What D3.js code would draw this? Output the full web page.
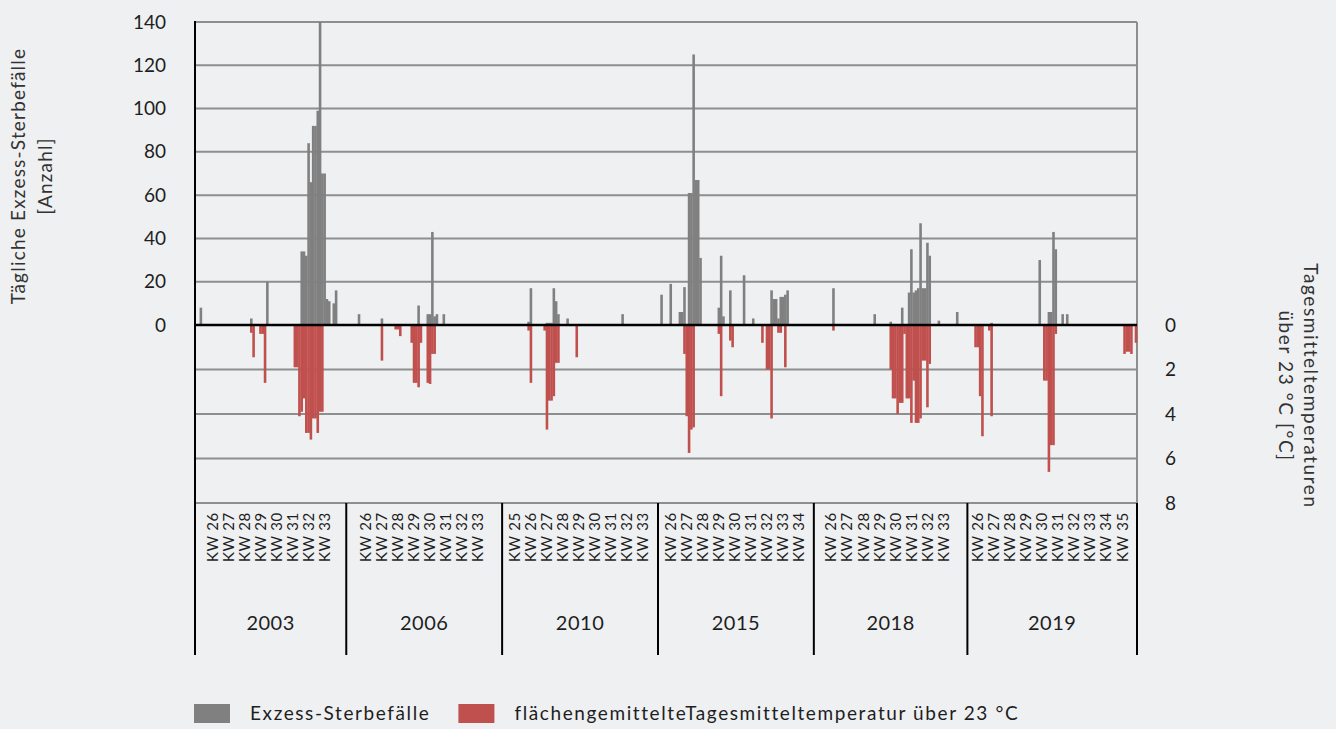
<!DOCTYPE html>
<html>
<head>
<meta charset="utf-8">
<script src="https://cdn.jsdelivr.net/npm/d3@7"></script>
<style>
  body { margin: 0; background: #eff0f2; }
  #viz svg { display: block; font-family: Lato, "Open Sans", sans-serif; }
</style>
</head>
<body>
<div id="viz"></div>
<script>
// one value per day of each heat period (excess deaths / degrees above 23 °C)
var excess2003 = [
  0,0,8,0,0,0,0,0,0,0,
  0,0,0,0,0,0,0,0,0,0,
  0,0,0,0,3,0,0,0,0,0,
  0,20,0,0,0,0,0,0,0,0,
  0,0,0,0,0,0,34,34,32,84,
  66,92,92,99,140,70,70,12,11,0,
  10,16,0,0,0,0
];
var temp2003 = [
  0,0,0,0,0,0,0,0,0,0,
  0,0,0,0,0,0,0,0,0,0,
  0,0,0,0,0.35,1.45,0,0,0.4,0.4,
  2.6,0,0,0,0,0,0,0,0,0,
  0,0,0,1.9,1.9,4.1,3.9,3.3,4.85,4.85,
  5.15,4.2,4.2,4.85,3.9,3.9,0,0,0,0,
  0,0,0,0,0,0
];
var excess2006 = [
  0,0,0,0,0,5,0,0,0,0,
  0,0,0,0,0,3,0,0,0,0,
  0,0,0,0,0,0,0,0,0,0,
  0,9,0,0,0,5,5,43,4,5,
  0,0,5,0,0,0,0,0,0,0,
  0,0,0,0,0,0,0,0,0,0,
  0,0,0,0,0,0,0,0
];
var temp2006 = [
  0,0,0,0,0,0,0,0,0,0,
  0,0,0,0,0,1.6,0,0,0,0,
  0,0.2,0.2,0.5,0,0,0,0,0.8,2.6,
  2.6,2.8,0.8,0,0,2.6,2.65,1.3,1.3,0,
  0,0,0,0,0,0,0,0,0,0,
  0,0,0,0,0,0,0,0,0,0,
  0,0,0,0,0,0,0,0
];
var excess2010 = [
  0,0,0,0,0,0,0,0,0,0,
  0,1.5,17,0,0,0,0,0,0,1,
  1,1,17,11,5,0,0,0,3,0,
  0,0,0,0,0,0,0,0,0,0,
  0,0,0,0,0,0,0,0,0,0,
  0,0,5,0,0,0,0,0,0,0,
  0,0,0,0,0,0,0,0
];
var temp2010 = [
  0,0,0,0,0,0,0,0,0,0,
  0,0.25,2.6,0,0,0,0,0,0.25,4.7,
  3.4,3.4,3.2,1.7,1.7,0,0,0,0,0,
  0,0,1.45,0,0,0,0,0,0,0,
  0,0,0,0,0,0,0,0,0,0,
  0,0,0,0,0,0,0,0,0,0,
  0,0,0,0,0,0,0,0
];
var excess2015 = [
  0,14,0,0,0,19,0,0,0,6,
  6,17.5,0,61,61,125,67,67,31,0,
  0,0,0,0,0,0,8,32,4,0,
  0,16,0,0,0,0,0,23,0,0,
  0,3,0,0,0,0,0,0,0,16,
  12,12,3,13,13,14,16,0,0,0,
  0,0,0,0,0,0,0,0
];
var temp2015 = [
  0,0,0,0,0,0,0,0,0,0,
  0,1.3,4.1,5.75,4.7,4.6,0,0,0,0,
  0,0,0,0,0,0,0.4,3.2,0,0,
  0,0.7,1.0,0,0,0,0,0,0,0,
  0,0,0,0,0,0.8,0,2.0,2.0,4.2,
  0,0,0.35,0.35,0,1.9,0,0,0,0,
  0,0,0,0,0,0,0,0
];
var excess2018 = [
  0,0,0,0,0,0,0,0,17,0,
  0,0,0,0,0,0,0,0,0,0,
  0,0,0,0,0,0,5,0,0,0,
  0,0,0,1.5,0,0,0,0,8,0,
  0,15,35,15,16,17,47,17,17,38,
  32,0,0,0,2,0,0,0,0,0,
  0,0,6,0,0,0,0
];
var temp2018 = [
  0,0,0,0,0,0,0,0,0.25,0,
  0,0,0,0,0,0,0,0,0,0,
  0,0,0,0,0,0,0,0,0,0,
  0,0,0,2.0,3.3,3.3,4.0,3.5,3.5,0.4,
  3.3,3.3,4.4,2.5,4.4,4.4,4.2,1.6,1.6,3.7,
  1.75,0,0,0,0,0,0,0,0,0,
  0,0,0,0,0,0,0
];
var excess2019 = [
  0,0,0,0,0,0,0,0,0,0,
  1,0,0,0,0,0,0,0,0,0,
  0,0,0,0,0,0,0,0,0,0,
  0,30,0,0,0,6,6,43,35,0,
  0,5,0,5,0,0,0,0,0,0,
  0,0,0,0,0,0,0,0,0,0,
  0,0,0,0,0,0,0,0,0,0,
  0,0,0,0
];
var temp2019 = [
  0,0,0,1.0,1.0,3.2,5.0,0,0,0.25,
  4.1,0,0,0,0,0,0,0,0,0,
  0,0,0,0,0,0,0,0,0,0,
  0,0,0,2.5,2.5,6.6,5.4,5.4,0.4,0,
  0,0,0,0,0,0,0,0,0,0,
  0,0,0,0,0,0,0,0,0,0,
  0,0,0,0,0,0,0,0,1.3,1.2,
  1.2,1.3,0,0.8
];

var years = ['2003', '2006', '2010', '2015', '2018', '2019'];
var excessByYear = [excess2003, excess2006, excess2010, excess2015, excess2018, excess2019];
var tempByYear = [temp2003, temp2006, temp2010, temp2015, temp2018, temp2019];

// labelled calendar weeks per year and the day on which the first one starts
var firstKW = [26, 26, 25, 26, 26, 26];
var lastKW = [33, 33, 33, 34, 33, 35];
var kwStartDay = [4, 5, 2, 2, 4, 1];

var excessTicks = [0, 20, 40, 60, 80, 100, 120, 140];
var tempTicks = [0, 2, 4, 6, 8];
var legendNames = ['Exzess-Sterbefälle', 'flächengemittelteTagesmitteltemperatur über 23 °C'];

var width = 1336,
    height = 729,
    plotLeft = 195,
    plotRight = 1137,
    plotTop = 22,
    zeroY = 325,
    plotBottom = 503,
    catBottom = 655;

var gray = '#808080',
    red = '#c0504d',
    gridColor = '#8e8e8e',
    textColor = '#1e1e1e';

var days = [];
years.forEach(function(yr, gi) {
  excessByYear[gi].forEach(function(v, i) {
    days.push({ key: yr + '-' + i, year: yr, excess: v, temp: tempByYear[gi][i] });
  });
});

var xScale = d3.scaleBand()
  .domain(days.map(function(d) { return d.key; }))
  .range([plotLeft, plotRight])
  .padding(0);

var yLeft = d3.scaleLinear().domain([0, 140]).range([zeroY, plotTop]);
var yRight = d3.scaleLinear().domain([0, 8]).range([zeroY, plotBottom]);

var svg = d3.select('#viz').append('svg')
  .attr('width', width)
  .attr('height', height);

svg.append('rect')
  .attr('width', width)
  .attr('height', height)
  .attr('fill', '#eff0f2');

// horizontal grid
svg.append('g').selectAll('line')
  .data(excessTicks.slice(1)).enter().append('line')
  .attr('x1', plotLeft).attr('x2', plotRight)
  .attr('y1', function(d) { return yLeft(d); })
  .attr('y2', function(d) { return yLeft(d); })
  .attr('stroke', gridColor).attr('stroke-width', 2);

svg.append('g').selectAll('line')
  .data(tempTicks.slice(1)).enter().append('line')
  .attr('x1', plotLeft).attr('x2', plotRight)
  .attr('y1', function(d) { return yRight(d); })
  .attr('y2', function(d) { return yRight(d); })
  .attr('stroke', gridColor).attr('stroke-width', 2);

svg.append('line')
  .attr('x1', plotRight).attr('x2', plotRight)
  .attr('y1', plotTop).attr('y2', plotBottom)
  .attr('stroke', gridColor).attr('stroke-width', 2);

// bars
var bw = xScale.bandwidth();

svg.append('g').selectAll('rect')
  .data(days.filter(function(d) { return d.excess > 0; }))
  .enter().append('rect')
  .attr('x', function(d) { return xScale(d.key); })
  .attr('width', bw + 0.3)
  .attr('y', function(d) { return yLeft(d.excess); })
  .attr('height', function(d) { return zeroY - yLeft(d.excess); })
  .attr('fill', gray);

svg.append('g').selectAll('rect')
  .data(days.filter(function(d) { return d.temp > 0; }))
  .enter().append('rect')
  .attr('x', function(d) { return xScale(d.key); })
  .attr('width', bw + 0.3)
  .attr('y', zeroY)
  .attr('height', function(d) { return yRight(d.temp) - zeroY; })
  .attr('fill', red);

// zero line and left axis line
svg.append('line')
  .attr('x1', plotLeft).attr('x2', plotRight)
  .attr('y1', zeroY).attr('y2', zeroY)
  .attr('stroke', '#000').attr('stroke-width', 2.5);

svg.append('line')
  .attr('x1', plotLeft).attr('x2', plotLeft)
  .attr('y1', plotTop - 1).attr('y2', catBottom)
  .attr('stroke', '#000').attr('stroke-width', 2);

// year group separators
var groupStart = years.map(function(yr) { return xScale(yr + '-0'); });
var groupEnd = groupStart.slice(1).concat([plotRight]);

svg.append('g').selectAll('line')
  .data(groupEnd).enter().append('line')
  .attr('x1', function(d) { return d; }).attr('x2', function(d) { return d; })
  .attr('y1', plotBottom).attr('y2', catBottom)
  .attr('stroke', '#000').attr('stroke-width', 2);

// year labels
svg.append('g').selectAll('text')
  .data(years).enter().append('text')
  .attr('x', function(d, i) { return (groupStart[i] + groupEnd[i]) / 2; })
  .attr('y', 630)
  .attr('text-anchor', 'middle')
  .attr('font-size', 20)
  .attr('letter-spacing', 0.5)
  .attr('fill', textColor)
  .text(function(d) { return d; });

// KW labels
var kwLabels = [];
years.forEach(function(yr, gi) {
  for (var kw = firstKW[gi]; kw <= lastKW[gi]; kw++) {
    var day = kwStartDay[gi] + 7 * (kw - firstKW[gi]) + 3;
    kwLabels.push({ x: xScale(yr + '-' + day) + bw / 2, text: 'KW ' + kw });
  }
});

svg.append('g').selectAll('text')
  .data(kwLabels).enter().append('text')
  .attr('transform', function(d) { return 'translate(' + d.x + ',512) rotate(-90)'; })
  .attr('dy', '0.36em')
  .attr('text-anchor', 'end')
  .attr('font-size', 15)
  .attr('letter-spacing', 0.7)
  .attr('fill', textColor)
  .text(function(d) { return d.text; });

// axes
var leftAxis = svg.append('g')
  .attr('transform', 'translate(' + plotLeft + ',0)')
  .call(d3.axisLeft(yLeft).tickValues(excessTicks).tickSize(0).tickPadding(29));
leftAxis.select('.domain').remove();

var rightAxis = svg.append('g')
  .attr('transform', 'translate(' + plotRight + ',0)')
  .call(d3.axisRight(yRight).tickValues(tempTicks).tickSize(0).tickPadding(28));
rightAxis.select('.domain').remove();

svg.selectAll('.tick text')
  .attr('font-family', 'Lato, sans-serif')
  .attr('font-size', 19)
  .attr('fill', textColor);

// axis titles
var leftTitle = svg.append('text')
  .attr('transform', 'translate(25,176) rotate(-90)')
  .attr('text-anchor', 'middle')
  .attr('font-size', 19)
  .attr('letter-spacing', 1.2)
  .attr('fill', '#333');
leftTitle.append('tspan').attr('x', 0).attr('dy', 0).text('Tägliche Exzess-Sterbefälle');
leftTitle.append('tspan').attr('x', 0).attr('dy', 27).text('[Anzahl]');

var rightTitle = svg.append('text')
  .attr('transform', 'translate(1304,386) rotate(90)')
  .attr('text-anchor', 'middle')
  .attr('font-size', 19)
  .attr('letter-spacing', 1.6)
  .attr('fill', '#333');
rightTitle.append('tspan').attr('x', 0).attr('dy', 0).text('Tagesmitteltemperaturen');
rightTitle.append('tspan').attr('x', 0).attr('dy', 25).text('über 23 °C [°C]');

// legend
var legendX = 194;
var legend = svg.append('g');
legendNames.forEach(function(name, i) {
  legend.append('rect')
    .attr('x', legendX).attr('y', 704)
    .attr('width', 36).attr('height', 19)
    .attr('fill', i === 0 ? gray : red);
  var t = legend.append('text')
    .attr('x', legendX + 56).attr('y', 720)
    .attr('font-size', 19)
    .attr('letter-spacing', 1.6)
    .attr('fill', textColor)
    .text(name);
  legendX = legendX + 56 + t.node().getComputedTextLength() + 28;
});
</script>
</body>
</html>
